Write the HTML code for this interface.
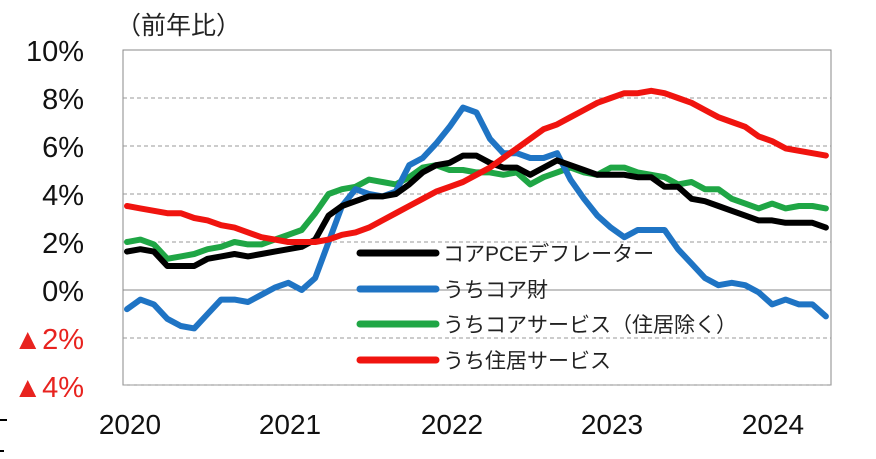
<!DOCTYPE html>
<html><head><meta charset="utf-8"><style>
body{margin:0;background:#fff;width:876px;height:454px;overflow:hidden;font-family:"Liberation Sans","Noto Sans CJK JP",sans-serif}
</style></head><body>
<svg id="s" width="876" height="454" xmlns="http://www.w3.org/2000/svg" font-family="Liberation Sans, Noto Sans CJK JP, sans-serif">
<rect x="123" y="50" width="708" height="335" fill="none" stroke="#888" stroke-width="1"/>
<g stroke="#999" stroke-dasharray="4,3" stroke-width="1">
<line x1="123" x2="831" y1="98" y2="98"/><line x1="123" x2="831" y1="146" y2="146"/>
<line x1="123" x2="831" y1="194" y2="194"/><line x1="123" x2="831" y1="242" y2="242"/>
<line x1="123" x2="831" y1="338" y2="338"/><line x1="123" x2="831" y1="385" y2="385"/>
</g>
<line x1="123" x2="831" y1="290" y2="290" stroke="#888" stroke-width="1"/>
<g font-size="29" text-anchor="end" fill="#111">
<text x="84" y="61">10%</text><text x="84" y="109">8%</text><text x="84" y="157">6%</text>
<text x="84" y="205">4%</text><text x="84" y="253">2%</text><text x="84" y="301">0%</text>
<text x="84" y="349" fill="#e8231f">▲2%</text><text x="84" y="397" fill="#e8231f">▲4%</text>
</g>
<text x="116" y="34" font-size="25" fill="#222">（前年比）</text>
<g font-size="28" text-anchor="middle" fill="#111">
<text x="130" y="434">2020</text><text x="290" y="434">2021</text><text x="452" y="434">2022</text>
<text x="612" y="434">2023</text><text x="773" y="434">2024</text>
</g>
<line x1="0" x2="7" y1="420" y2="420" stroke="#000" stroke-width="2"/>
<line x1="0" x2="4" y1="451" y2="451" stroke="#000" stroke-width="2"/>
<g id="lines" fill="none" stroke-width="6" stroke-linejoin="round" stroke-linecap="round"></g>
<g stroke-width="7" stroke-linecap="round">
<line x1="360" x2="436" y1="253" y2="253" stroke="#000"/>
<line x1="360" x2="436" y1="289" y2="289" stroke="#1f74c4"/>
<line x1="360" x2="436" y1="324" y2="324" stroke="#1fa645"/>
<line x1="360" x2="436" y1="360" y2="360" stroke="#f0140f"/>
</g>
<g font-size="21" fill="#222">
<text x="443" y="261">コアPCEデフレーター</text>
<text x="443" y="297">うちコア財</text>
<text x="443" y="332">うちコアサービス（住居除く）</text>
<text x="443" y="368">うち住居サービス</text>
</g>
</svg>
<script>
var D={
"#1fa645":[2.0,2.1,1.9,1.3,1.4,1.5,1.7,1.8,2.0,1.9,1.9,2.1,2.3,2.5,3.2,4.0,4.2,4.3,4.6,4.5,4.4,4.7,5.1,5.2,5.0,5.0,4.9,4.9,4.8,4.9,4.4,4.7,4.9,5.1,4.9,4.8,5.1,5.1,4.9,4.8,4.7,4.4,4.5,4.2,4.2,3.8,3.6,3.4,3.6,3.4,3.5,3.5,3.4],
"#1f74c4":[-0.8,-0.4,-0.6,-1.2,-1.5,-1.6,-1.0,-0.4,-0.4,-0.5,-0.2,0.1,0.3,0.0,0.5,2.0,3.5,4.2,4.0,3.9,4.1,5.2,5.5,6.1,6.8,7.6,7.4,6.3,5.7,5.7,5.5,5.5,5.7,4.6,3.8,3.1,2.6,2.2,2.5,2.5,2.5,1.7,1.1,0.5,0.2,0.3,0.2,-0.1,-0.6,-0.4,-0.6,-0.6,-1.1],
"#000":[1.6,1.7,1.6,1.0,1.0,1.0,1.3,1.4,1.5,1.4,1.5,1.6,1.7,1.8,2.1,3.1,3.5,3.7,3.9,3.9,4.0,4.4,4.9,5.2,5.3,5.6,5.6,5.3,5.1,5.1,4.8,5.1,5.4,5.2,5.0,4.8,4.8,4.8,4.7,4.7,4.3,4.3,3.8,3.7,3.5,3.3,3.1,2.9,2.9,2.8,2.8,2.8,2.6],
"#f0140f":[3.5,3.4,3.3,3.2,3.2,3.0,2.9,2.7,2.6,2.4,2.2,2.1,2.0,2.0,2.0,2.1,2.3,2.4,2.6,2.9,3.2,3.5,3.8,4.1,4.3,4.5,4.8,5.1,5.5,5.9,6.3,6.7,6.9,7.2,7.5,7.8,8.0,8.2,8.2,8.3,8.2,8.0,7.8,7.5,7.2,7.0,6.8,6.4,6.2,5.9,5.8,5.7,5.6]};
var g=document.getElementById("lines"),h="";
for(var c in D){var p=D[c].map(function(v,i){return (127+13.44*i).toFixed(1)+","+(290-24*v).toFixed(1)}).join(" ");
h+='<polyline stroke="'+c+'" points="'+p+'"/>';}
g.innerHTML=h;
</script>
</body></html>
